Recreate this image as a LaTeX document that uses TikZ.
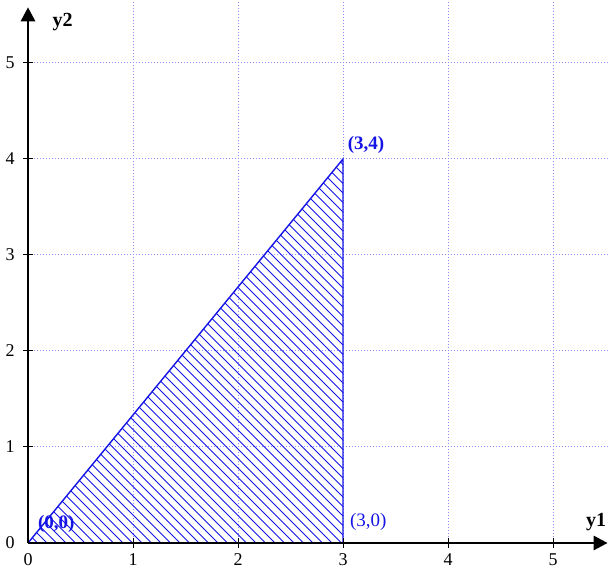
\documentclass[tikz,border=0pt]{standalone}
\usepackage{fontspec}
\setmainfont{Liberation Serif}
\usetikzlibrary{arrows.meta}
\definecolor{gridblue}{RGB}{140,140,255}
\definecolor{regionblue}{RGB}{20,20,230}

\begin{document}
\begin{tikzpicture}[x=52.5pt, y=48pt,
    gridline/.style={gridblue, densely dotted, line width=0.5pt},
    axisline/.style={line width=1.4pt, -{Triangle[length=7pt, width=7pt]}},
    ticklabel/.style={font=\fontsize{9}{10}\selectfont, inner sep=1pt},
    pointlabel/.style={regionblue, font=\fontsize{9.5}{11}\selectfont\bfseries, inner sep=1pt},
    axislabel/.style={font=\fontsize{10}{11}\selectfont\bfseries, inner sep=1pt}]
    \useasboundingbox (-0.2667,-0.2708) rectangle (5.533,5.656);

    % grid
    \foreach \i in {1,...,5} {
        \draw[gridline] (\i,0) -- (\i,5.656);
        \draw[gridline] (0,\i) -- (5.533,\i);
    }

    % hatched region
    \begin{scope}
        \clip (0,0) -- (3,4) -- (3,0) -- cycle;
        \begin{scope}[x=0.5pt, y=0.5pt]
            \foreach \c in {0,9.5,...,705}
                \draw[regionblue, line width=0.45pt] (\c,0) -- (\c-400,400);
        \end{scope}
    \end{scope}
    \draw[regionblue, line width=0.7pt] (0,0) -- (3,4) -- (3,0);

    % axes
    \draw[axisline] (0,0) -- (5.52,0);
    \draw[axisline] (0,0) -- (0,5.58);
    \foreach \i in {1,...,5} {
        \draw[line width=0.5pt] (\i,-0.05) -- (\i,0.05);
        \draw[line width=0.5pt] (-0.05,\i) -- (0.05,\i);
        \node[ticklabel] (xt\i) at (\i,-0.17) {\i};
        \node[ticklabel] (yt\i) at (-0.17,\i) {\i};
    }
    \node[ticklabel] (xt0) at (0,-0.17) {0};
    \node[ticklabel] (yt0) at (-0.17,0) {0};

    \node[axislabel] (ylab) at (0.33,5.43) {y2};
    \node[axislabel] (xlab) at (5.41,0.22) {y1};

    \node[pointlabel] (p00) at (0.27,0.2) {(0,0)};
    \node[pointlabel] (p34) at (3.22,4.15) {(3,4)};
    \node[pointlabel, font=\fontsize{9.5}{11}\selectfont] (p30) at (3.24,0.22) {(3,0)};
\end{tikzpicture}
\end{document}
